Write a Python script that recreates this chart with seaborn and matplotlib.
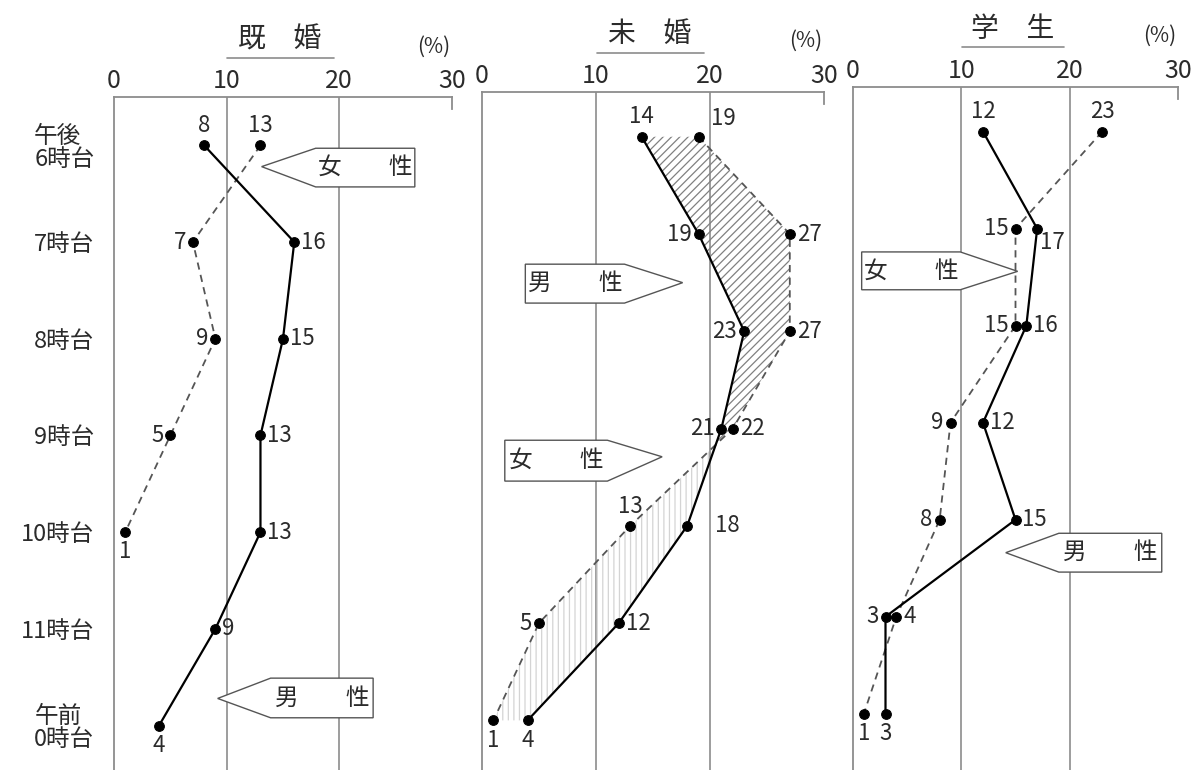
import numpy as np
import pandas as pd
import matplotlib.pyplot as plt
import seaborn as sns
from matplotlib.patches import Polygon

sns.set_style("white")
plt.rcParams["font.family"] = ["Noto Sans CJK JP", "DejaVu Sans"]
plt.rcParams["hatch.linewidth"] = 0.9

# ── Data ──────────────────────────────────────────────────────────────────────
hours = ["午後\n6時台", "7時台", "8時台", "9時台", "10時台", "11時台", "午前\n0時台"]
titles = ["既　婚", "未　婚", "学　生"]
x_ticks = [0, 10, 20, 30]

married_male = [8, 16, 15, 13, 13, 9, 4]
married_female = [13, 7, 9, 5, 1, np.nan, np.nan]
single_male = [14, 19, 23, 21, 18, 12, 4]
single_female = [19, 27, 27, 22, 13, 5, 1]
student_male = [12, 17, 16, 12, 15, 3, 3]
student_female = [23, 15, 15, 9, 8, 4, 1]

# label placement codes (a=above, b=below, l=left, r=right)
married_male_pos = ["a", "r", "r", "r", "r", "r", "b"]
married_female_pos = ["a", "l", "l", "l", "b", None, None]
single_male_pos = ["a", "l", "l", "l", "rr", "r", "b"]
single_female_pos = ["ar", "r", "r", "r", "a", "l", "b"]
student_male_pos = ["a", "br", "r", "r", "r", "l", "b"]
student_female_pos = ["a", "l", "l", "l", "l", "r", "b"]

OFFSETS = {
    "a": (0, 6, "center", "bottom"),
    "b": (0, -6, "center", "top"),
    "l": (-5, 0, "right", "center"),
    "r": (5, 0, "left", "center"),
    "rr": (20, 0, "left", "center"),
    "ar": (9, 5, "left", "bottom"),
    "br": (2, -2, "left", "top"),
}

GREY = "#8c8c8c"
INK = "#2b2b2b"


def arrow_box(ax, tip, x0, x1, y0, y1, text, side):
    """Pentagon label box with a pointed side (like the printed callouts)."""
    if side == "left":
        pts = [tip, (x0, y0), (x1, y0), (x1, y1), (x0, y1)]
    else:
        pts = [tip, (x1, y1), (x0, y1), (x0, y0), (x1, y0)]
    ax.add_patch(Polygon(pts, closed=True, facecolor="white",
                         edgecolor="#555555", linewidth=1.0, zorder=4,
                         clip_on=False))
    ax.text((x0 + x1) / 2, (y0 + y1) / 2, text, ha="center", va="center",
            fontsize=17, color=INK, zorder=5)


def draw_panel(ax, male, female, male_pos, female_pos, title, ylim,
               show_hours=False, shade=False):
    rows = np.arange(len(hours))
    m = np.array(male, dtype=float)
    f = np.array(female, dtype=float)

    if shade:
        ax.fill_betweenx(rows, m, f, where=f >= m, interpolate=True,
                         facecolor="none", edgecolor="#808080", hatch="////",
                         linewidth=0, zorder=1)
        ax.fill_betweenx(rows, m, f, where=m >= f, interpolate=True,
                         facecolor="none", edgecolor="#d4d4d4", hatch="|||",
                         linewidth=0, zorder=1)

    df_m = pd.DataFrame({"value": m, "row": rows})
    df_f = pd.DataFrame({"value": f, "row": rows})
    sns.lineplot(data=df_f, x="value", y="row", orient="y", sort=False,
                 estimator=None, color="#555555", linestyle=(0, (4, 3)),
                 linewidth=1.3, marker="o", markersize=7,
                 markerfacecolor="black", markeredgecolor="black",
                 ax=ax, zorder=3, clip_on=False)
    sns.lineplot(data=df_m, x="value", y="row", orient="y", sort=False,
                 estimator=None, color="black", linewidth=1.6, marker="o",
                 markersize=7, markerfacecolor="black",
                 markeredgecolor="black", ax=ax, zorder=3, clip_on=False)

    for vals, pos in [(m, male_pos), (f, female_pos)]:
        for r, (v, p) in enumerate(zip(vals, pos)):
            if p is None or np.isnan(v):
                continue
            dx, dy, ha, va = OFFSETS[p]
            ax.annotate(f"{int(v)}", (v, r), xytext=(dx, dy),
                        textcoords="offset points", ha=ha, va=va,
                        fontsize=16, color=INK, zorder=6)

    # axes styling
    ax.set_xlim(0, 30)
    ax.set_ylim(*ylim)
    ax.xaxis.tick_top()
    ax.set_xticks(x_ticks)
    ax.set_xticklabels([str(t) for t in x_ticks], fontsize=18, color=INK)
    ax.tick_params(axis="x", length=0, pad=2)
    ax.set_yticks(rows)
    if show_hours:
        ax.set_yticklabels(hours, fontsize=17, color=INK, linespacing=1.0)
        for lab in ax.get_yticklabels():
            lab.set_multialignment("left")
    else:
        ax.set_yticklabels([])
    ax.tick_params(axis="y", length=6, width=1.0, color=GREY, pad=8)
    ax.set_xlabel("")
    ax.set_ylabel("")

    ax.spines["bottom"].set_visible(False)
    for side in ["top", "left", "right"]:
        ax.spines[side].set_color(GREY)
        ax.spines[side].set_linewidth(1.3)
    ax.spines["right"].set_bounds(ylim[1], ylim[1] + 0.12)
    for xv in [10, 20]:
        ax.axvline(xv, color=GREY, linewidth=1.2, zorder=0)

    # title with underline, and unit
    ax.text(0.49, 1.085, title, transform=ax.transAxes, ha="center",
            va="center", fontsize=20, color=INK)
    ax.plot([0.335, 0.65], [1.058, 1.058], transform=ax.transAxes,
            color=GREY, linewidth=1.2, clip_on=False)
    ax.text(0.945, 1.075, "(%)", transform=ax.transAxes, ha="center",
            va="center", fontsize=15, color=INK)


fig = plt.figure(figsize=(11.92, 7.7), dpi=100)
ax1 = fig.add_axes([114 / 1192, 0.0, 338 / 1192, 673 / 770])
ax2 = fig.add_axes([482 / 1192, 0.0, 342 / 1192, 678 / 770])
ax3 = fig.add_axes([853 / 1192, 0.0, 325 / 1192, 683 / 770])

draw_panel(ax1, married_male, married_female, married_male_pos,
           married_female_pos, titles[0], (6.46, -0.5), show_hours=True)
draw_panel(ax2, single_male, single_female, single_male_pos,
           single_female_pos, titles[1], (6.51, -0.46), shade=True)
draw_panel(ax3, student_male, student_female, student_male_pos,
           student_female_pos, titles[2], (6.58, -0.46))

# callout boxes
arrow_box(ax1, (13.1, 0.22), 17.9, 26.7, 0.03, 0.43, "女　　性", "left")
arrow_box(ax1, (9.2, 5.72), 13.9, 23.0, 5.51, 5.92, "男　　性", "left")
arrow_box(ax2, (17.6, 1.5), 3.8, 12.5, 1.31, 1.71, "男　　性", "right")
arrow_box(ax2, (15.8, 3.29), 2.0, 11.0, 3.12, 3.54, "女　　性", "right")
arrow_box(ax3, (15.2, 1.44), 0.8, 9.9, 1.24, 1.63, "女　　性", "right")
arrow_box(ax3, (14.1, 4.34), 19.0, 28.5, 4.14, 4.54, "男　　性", "left")

plt.savefig("out.png", dpi=100)
